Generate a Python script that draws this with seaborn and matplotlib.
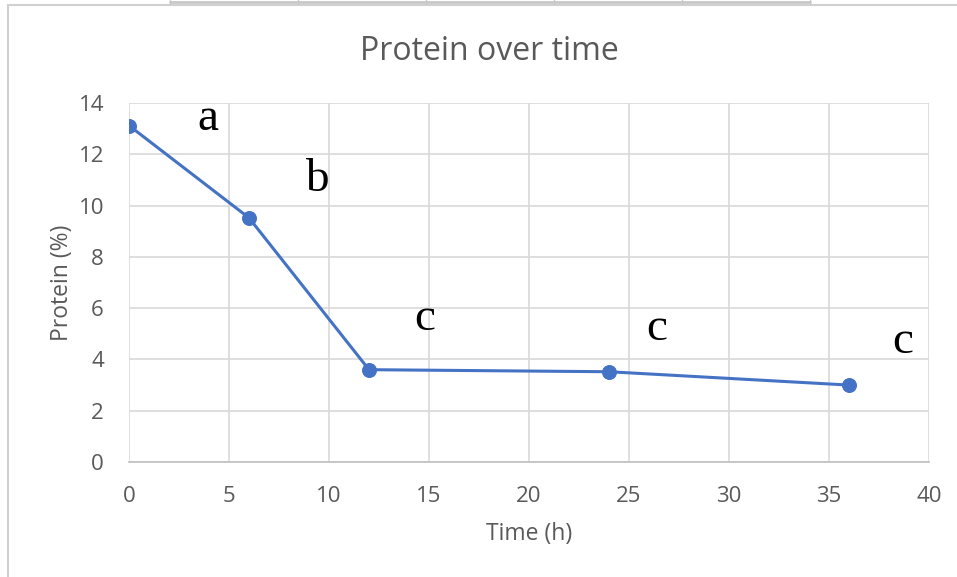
import matplotlib
matplotlib.use("Agg")
import matplotlib.pyplot as plt
import seaborn as sns
import pandas as pd
from matplotlib.patches import Rectangle
from matplotlib.lines import Line2D

time_h = [0, 6, 12, 24, 36]
protein = [13.12, 9.52, 3.6, 3.52, 3.0]
letters = ["a", "b", "c", "c", "c"]
letter_x = [3.95, 9.4, 14.8, 26.4, 38.7]
letter_y = [13.4, 11.0, 5.6, 5.2, 4.7]
x_ticks = [0, 5, 10, 15, 20, 25, 30, 35, 40]
y_ticks = [0, 2, 4, 6, 8, 10, 12, 14]

sns.set_theme(style="white")
plt.rcParams["font.family"] = ["Open Sans", "DejaVu Sans"]

df = pd.DataFrame({"Time (h)": time_h, "Protein (%)": protein})

fig = plt.figure(figsize=(9.57, 5.77), dpi=100)
ax = fig.add_axes([129/957, 1-462/577, 800/957, 359/577])

# outer chart border and top table lines
fig.patches.append(Rectangle((8/957, -0.1), 1.0, 1-5/577+0.1, transform=fig.transFigure,
                             fill=False, edgecolor="#d0d0d0", linewidth=1.5))
fig.lines.append(Line2D([170/957, 810/957], [1-1.5/577, 1-1.5/577], transform=fig.transFigure,
                        color="#c8c8c8", linewidth=2))
for xp in [170, 298, 426, 554, 682, 810]:
    fig.lines.append(Line2D([xp/957, xp/957], [1-4/577, 1.0], transform=fig.transFigure,
                            color="#c8c8c8", linewidth=1))

sns.lineplot(data=df, x="Time (h)", y="Protein (%)", ax=ax, color="#4472C4",
             linewidth=2.2, marker="o", markersize=10, markeredgecolor="#4472C4")

for lx, ly, t in zip(letter_x, letter_y, letters):
    ax.text(lx, ly, t, ha="center", va="center", fontsize=34,
            family=["Liberation Serif", "DejaVu Serif"], color="black")

ax.set_xlim(0, 40)
ax.set_ylim(0, 14)
ax.set_xticks(x_ticks)
ax.set_yticks(y_ticks)
ax.grid(True, color="#d9d9d9", linewidth=1.2)
ax.set_axisbelow(True)
for s in ["top", "right", "left"]:
    ax.spines[s].set_visible(False)
ax.spines["bottom"].set_color("#bfbfbf")
ax.spines["bottom"].set_linewidth(1.2)
ax.tick_params(axis="x", length=0, labelsize=16, labelcolor="#595959", pad=17)
ax.tick_params(axis="y", length=0, labelsize=16, labelcolor="#595959", pad=18)
ax.set_xlabel("Time (h)", fontsize=16.5, color="#595959", labelpad=11)
ax.set_ylabel("Protein (%)", fontsize=16.5, color="#595959", labelpad=3)
ax.set_title("Protein over time", fontsize=23, color="#595959", pad=31, x=0.451)

fig.savefig("out.png", dpi=100)
